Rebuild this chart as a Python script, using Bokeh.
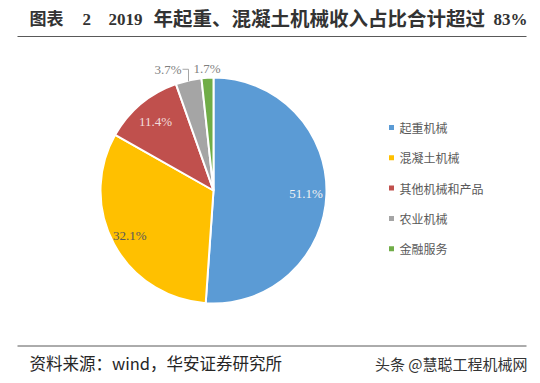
import math
from bokeh.plotting import figure
from bokeh.models import Range1d, ColumnDataSource
from bokeh.core.properties import value
from bokeh.embed import file_html
from bokeh.resources import INLINE

# ---- data ----
categories = ["起重机械", "混凝土机械", "其他机械和产品", "农业机械", "金融服务"]
shares = [51.1, 32.1, 11.4, 3.7, 1.7]
labels = ["51.1%", "32.1%", "11.4%", "3.7%", "1.7%"]
colors = ["#5B9BD5", "#FFC000", "#C0504D", "#A5A5A5", "#70AD47"]
title_parts = ["图表", "2", "2019", "年起重、混凝土机械收入占比合计超过", "83%"]
source_text = "资料来源：wind，华安证券研究所"
mark_text = "头条 @慧聪工程机械网"

W, H = 532, 375
p = figure(width=W, height=H, output_backend="svg", toolbar_location=None,
           x_range=Range1d(0, W), y_range=Range1d(0, H), min_border=0)
p.axis.visible = False
p.xgrid.visible = False
p.ygrid.visible = False
p.outline_line_color = None
p.background_fill_color = "white"

def px(x):  # page x -> data
    return x
def py(y):  # page y -> data
    return H - y

cx, cy, R = px(213), py(190), 113
total = sum(shares)
starts, ends, mids = [], [], []
cum = 0.0
for s in shares:
    a0 = math.pi / 2 - 2 * math.pi * cum / total
    cum += s
    a1 = math.pi / 2 - 2 * math.pi * cum / total
    starts.append(a0); ends.append(a1); mids.append((a0 + a1) / 2)

src = ColumnDataSource(dict(start=starts, end=ends, color=colors))
p.wedge(x=cx, y=cy, radius=R, start_angle="start", end_angle="end",
        direction="clock", fill_color="color", line_color="white",
        line_width=2, source=src)

# labels
lab_r = [0.82, 0.84, 0.80, 1.1, 1.08]
lab_col = ["#F2F2F2", "#595959", "#F2DCDB", "#7F7F7F", "#7F7F7F"]
num_font = value("Liberation Serif")
for i, t in enumerate(labels):
    m = mids[i]
    lx = cx + R * lab_r[i] * math.cos(m)
    ly = cy + R * lab_r[i] * math.sin(m)
    align = "center"
    if i == 3:
        ex = cx + R * math.cos(m)
        ey = cy + R * math.sin(m)
        lx = ex - 7
        p.line(x=[lx + 1, ex, ex], y=[ly, ly, ey - 1], line_color="#A6A6A6", line_width=1)
        align = "right"
    p.text(x=[lx], y=[ly], text=[t], text_font=num_font, text_font_size="13px",
           text_color=lab_col[i], text_align=align, text_baseline="middle")

# legend
cjk = value("Noto Sans CJK SC")
for i, c in enumerate(categories):
    yy = py(127 + 30.3 * i)
    p.scatter(x=[px(391)], y=[yy], marker="square", size=5, fill_color=colors[i], line_color=None)
    p.text(x=[px(399)], y=[yy], text=[c], text_font=cjk, text_font_size="12px",
           text_color="#595959", text_baseline="middle")

# title + rules
tfont = value("Liberation Serif, Noto Sans CJK SC")
tx = [29, 82, 108, 153, 527]
for i, t in enumerate(title_parts):
    p.text(x=[px(tx[i])], y=[py(19)], text=[t], text_font=tfont,
           text_font_size="19.5px" if i == 3 else "17px",
           text_font_style="bold", text_color="#333333", text_baseline="middle",
           text_align="right" if i == 4 else "left")
p.line(x=[px(17), px(526)], y=[py(36), py(36)], line_color="#595959", line_width=1)
p.line(x=[px(17), px(526)], y=[py(345.5), py(345.5)], line_color="#595959", line_width=1)
p.text(x=[px(29)], y=[py(362)], text=[source_text], text_font=cjk, text_font_size="16.5px",
       text_color="#262626", text_baseline="middle")
p.text(x=[px(527)], y=[py(363)], text=[mark_text], text_font=cjk, text_font_size="15px",
       text_color="#333333", text_baseline="middle", text_align="right")

open("out.html", "w").write(file_html(p, INLINE))
